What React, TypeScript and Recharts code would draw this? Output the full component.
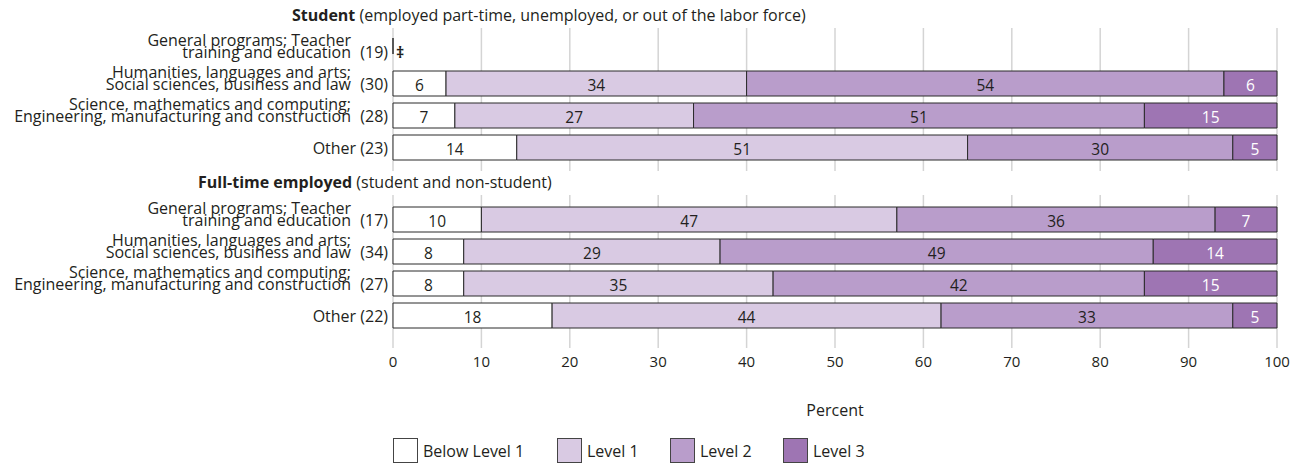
import React from "react";
import { BarChart, Bar, XAxis, YAxis, CartesianGrid, LabelList } from "recharts";

const FONT = "'Open Sans', sans-serif";

// field labels, "|" marks the line break
const fields = [
  "General programs; Teacher|training and education",
  "Humanities, languages and arts;|Social sciences, business and law",
  "Science, mathematics and computing;|Engineering, manufacturing and construction",
  "Other",
];

// Student (employed part-time, unemployed, or out of the labor force)
const studentCounts = [19, 30, 28, 23];
const studentBelow = [null, 6, 7, 14];
const studentLevel1 = [null, 34, 27, 51];
const studentLevel2 = [null, 54, 51, 30];
const studentLevel3 = [null, 6, 15, 5];

// Full-time employed (student and non-student)
const fulltimeCounts = [17, 34, 27, 22];
const fulltimeBelow = [10, 8, 8, 18];
const fulltimeLevel1 = [47, 29, 35, 44];
const fulltimeLevel2 = [36, 49, 42, 33];
const fulltimeLevel3 = [7, 14, 15, 5];

const percentTicks = [0, 10, 20, 30, 40, 50, 60, 70, 80, 90, 100];

const levelKeys = ["below", "level1", "level2", "level3"];
const levelNames = ["Below Level 1", "Level 1", "Level 2", "Level 3"];
const levelColors = ["#ffffff", "#d9cae3", "#b99dcb", "#9e75b3"];
const labelColors = ["#231f20", "#231f20", "#231f20", "#ffffff"];

const STROKE = "#2b2b2b";
const GRID = "#d4d4d4";
const INK = "#231f20";

function buildRows(counts: number[], below: (number | null)[], l1: (number | null)[], l2: (number | null)[], l3: (number | null)[]) {
  return fields.map((field, i) => ({
    field,
    count: counts[i],
    suppressed: below[i] == null,
    below: below[i] ?? 0,
    level1: l1[i] ?? 0,
    level2: l2[i] ?? 0,
    level3: l3[i] ?? 0,
  }));
}

const studentRows = buildRows(studentCounts, studentBelow, studentLevel1, studentLevel2, studentLevel3);
const fulltimeRows = buildRows(fulltimeCounts, fulltimeBelow, fulltimeLevel1, fulltimeLevel2, fulltimeLevel3);

function FieldTick(props: any) {
  const { x, y, payload, rows } = props;
  const row = rows.find((r: any) => r.field === payload.value);
  const lines = String(payload.value).split("|");
  const style = { fontFamily: FONT, fontSize: 16, fill: INK };
  // reporting standards not met: zero line plus double dagger at the plot's left edge
  const marker = row.suppressed ? (
    <g>
      <line x1={x + 5} x2={x + 5} y1={y - 13} y2={y + 3} stroke={STROKE} strokeWidth={1.5} />
      <text x={x + 8} y={y + 1} dominantBaseline="central"
        style={{ fontFamily: FONT, fontSize: 16, fontWeight: 700, fill: INK }}>‡</text>
    </g>
  ) : null;
  if (lines.length === 1) {
    return (
      <g>
        <text x={x} y={y + 1} textAnchor="end" dominantBaseline="central" style={style}>
          {`${lines[0]} (${row.count})`}
        </text>
        {marker}
      </g>
    );
  }
  return (
    <g>
      <text x={x - 37} y={y - 5.5} textAnchor="end" style={style}>{lines[0]}</text>
      <text x={x - 37} y={y + 6.5} textAnchor="end" style={style}>{lines[1]}</text>
      <text x={x} y={y + 1} textAnchor="end" dominantBaseline="central" style={style}>{`(${row.count})`}</text>
      {marker}
    </g>
  );
}

function makeLabel(idx: number) {
  return (props: any) => {
    const { x, y, width, height, value } = props;
    if (!value) return null;
    return (
      <text x={x + width / 2} y={y + height / 2 + 1} textAnchor="middle" dominantBaseline="central"
        style={{ fontFamily: FONT, fontSize: 15.5, fill: labelColors[idx] }}>
        {value}
      </text>
    );
  };
}

function Section({ rows, top, height, padTop, padBottom, showAxis }: any) {
  return (
    <div style={{ position: "absolute", left: 0, top: 0 }}>
      <BarChart
        width={1300}
        height={height}
        data={rows}
        layout="vertical"
        margin={{ top, right: 23, bottom: showAxis ? 2 : 0, left: 0 }}
        barSize={25}
      >
        <CartesianGrid horizontal={false} stroke={GRID} strokeWidth={1.5} />
        <XAxis
          type="number"
          domain={[0, 100]}
          ticks={percentTicks}
          hide={!showAxis}
          axisLine={false}
          tickLine={false}
          height={30}
          tick={{ fontFamily: FONT, fontSize: 15, fill: INK }}
          interval={0}
        />
        <YAxis
          type="category"
          dataKey="field"
          width={393}
          axisLine={false}
          tickLine={false}
          tickSize={0}
          tickMargin={5}
          padding={{ top: padTop, bottom: padBottom }}
          tick={<FieldTick rows={rows} />}
          interval={0}
        />
        {levelKeys.map((key, idx) => (
          <Bar
            key={key}
            dataKey={key}
            stackId="a"
            fill={levelColors[idx]}
            stroke={STROKE}
            strokeWidth={1}
            isAnimationActive={false}
          >
            <LabelList dataKey={key} content={makeLabel(idx)} />
          </Bar>
        ))}
      </BarChart>
    </div>
  );
}

export default function App() {
  const textStyle: React.CSSProperties = { fontFamily: FONT, fontSize: 16, color: INK, whiteSpace: "nowrap", lineHeight: "22px" };
  return (
    <div style={{ position: "absolute", left: 0, top: 0, width: 1300, height: 466, background: "#fff" }}>
      <Section rows={studentRows} top={28} height={171} padTop={7} padBottom={8} showAxis={false} />
      <Section rows={fulltimeRows} top={195} height={380} padTop={8} padBottom={17} showAxis={true} />
      <div style={{ ...textStyle, position: "absolute", left: 292, top: 4 }}>
        <b>Student</b> (employed part-time, unemployed, or out of the labor force)
      </div>
      <div style={{ ...textStyle, position: "absolute", left: 198, top: 171 }}>
        <b>Full-time employed</b> (student and non-student)
      </div>
      <div style={{ ...textStyle, position: "absolute", left: 835, top: 399, transform: "translateX(-50%)" }}>
        Percent
      </div>
      <div style={{ position: "absolute", left: 393, top: 438, display: "flex", alignItems: "center" }}>
        {levelNames.map((name, i) => (
          <div key={name} style={{ display: "flex", alignItems: "center", width: [164, 113, 113, 100][i] }}>
            <div style={{ width: 23, height: 23, background: levelColors[i], border: "1px solid #444" }} />
            <span style={{ ...textStyle, marginLeft: 5 }}>{name}</span>
          </div>
        ))}
      </div>
    </div>
  );
}
